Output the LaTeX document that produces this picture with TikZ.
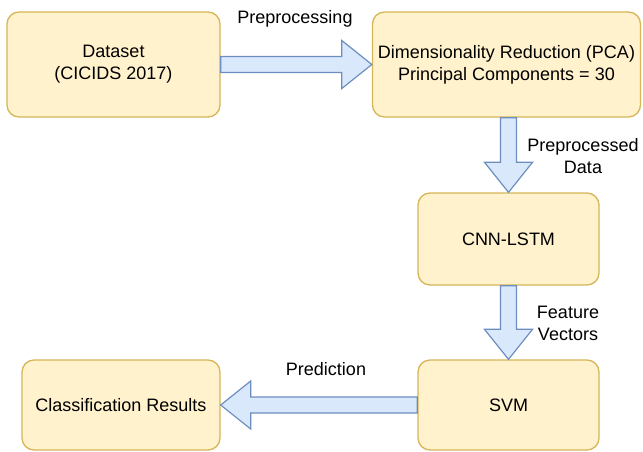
\documentclass[tikz,border=0pt]{standalone}
\usepackage{fontspec}
\setmainfont{Liberation Sans}
\usepackage{tikz}
\usetikzlibrary{calc}
\definecolor{boxfill}{HTML}{FFF2CC}
\definecolor{boxline}{HTML}{D6B656}
\definecolor{arrfill}{HTML}{DAE8FC}
\definecolor{arrline}{HTML}{6C8EBF}
% block arrow from #1 to #2
\newcommand{\BlockArrow}[2]{%
\coordinate (hb) at ($(#2)!22.5pt!(#1)$);
\draw[blockarrow] ($(#1)!6pt!90:(#2)$) -- ($(hb)!6pt!90:(#2)$) -- ($(hb)!18pt!90:(#2)$)
 -- (#2) -- ($(hb)!18pt!-90:(#2)$) -- ($(hb)!6pt!-90:(#2)$) -- ($(#1)!6pt!-90:(#2)$) -- cycle;}

\begin{document}
\begin{tikzpicture}[x=0.75pt, y=-0.75pt,
  every node/.style={font=\fontsize{13.5pt}{16.5pt}\selectfont, align=center},
  stagebox/.style={draw=boxline, fill=boxfill, line width=1pt, rounded corners=9pt, inner sep=0pt},
  blockarrow/.style={draw=arrline, fill=arrfill, line width=0.9pt, line join=miter}]
\useasboundingbox (0,0) rectangle (643,451);
% draw boxes
\node[stagebox, minimum width=159.75pt, minimum height=78.75pt] (data) at (113.5,64.5) {Dataset\\(CICIDS 2017)};
\node[stagebox, minimum width=201pt, minimum height=78.75pt] (pca) at (506.5,64.5) {Dimensionality Reduction (PCA)\\Principal Components = 30};
\node[stagebox, minimum width=135.75pt, minimum height=69pt] (cnn) at (508.5,239) {CNN-LSTM};
\node[stagebox, minimum width=135.75pt, minimum height=67.5pt] (svm) at (508.5,405) {SVM};
\node[stagebox, minimum width=148.5pt, minimum height=67.5pt] (res) at (121,405) {Classification Results};
% draw block arrows
\BlockArrow{data.east}{pca.west}
\BlockArrow{pca.south -| cnn.north}{cnn.north}
\BlockArrow{cnn.south}{svm.north}
\BlockArrow{svm.west}{res.east}
% arrow labels
\node (lprep) at (295,19) {Preprocessing};
\node (lpdata) at (583,156) {Preprocessed\\Data};
\node (lfeat) at (568,323) {Feature\\Vectors};
\node (lpred) at (326,369) {Prediction};
\end{tikzpicture}
\end{document}
